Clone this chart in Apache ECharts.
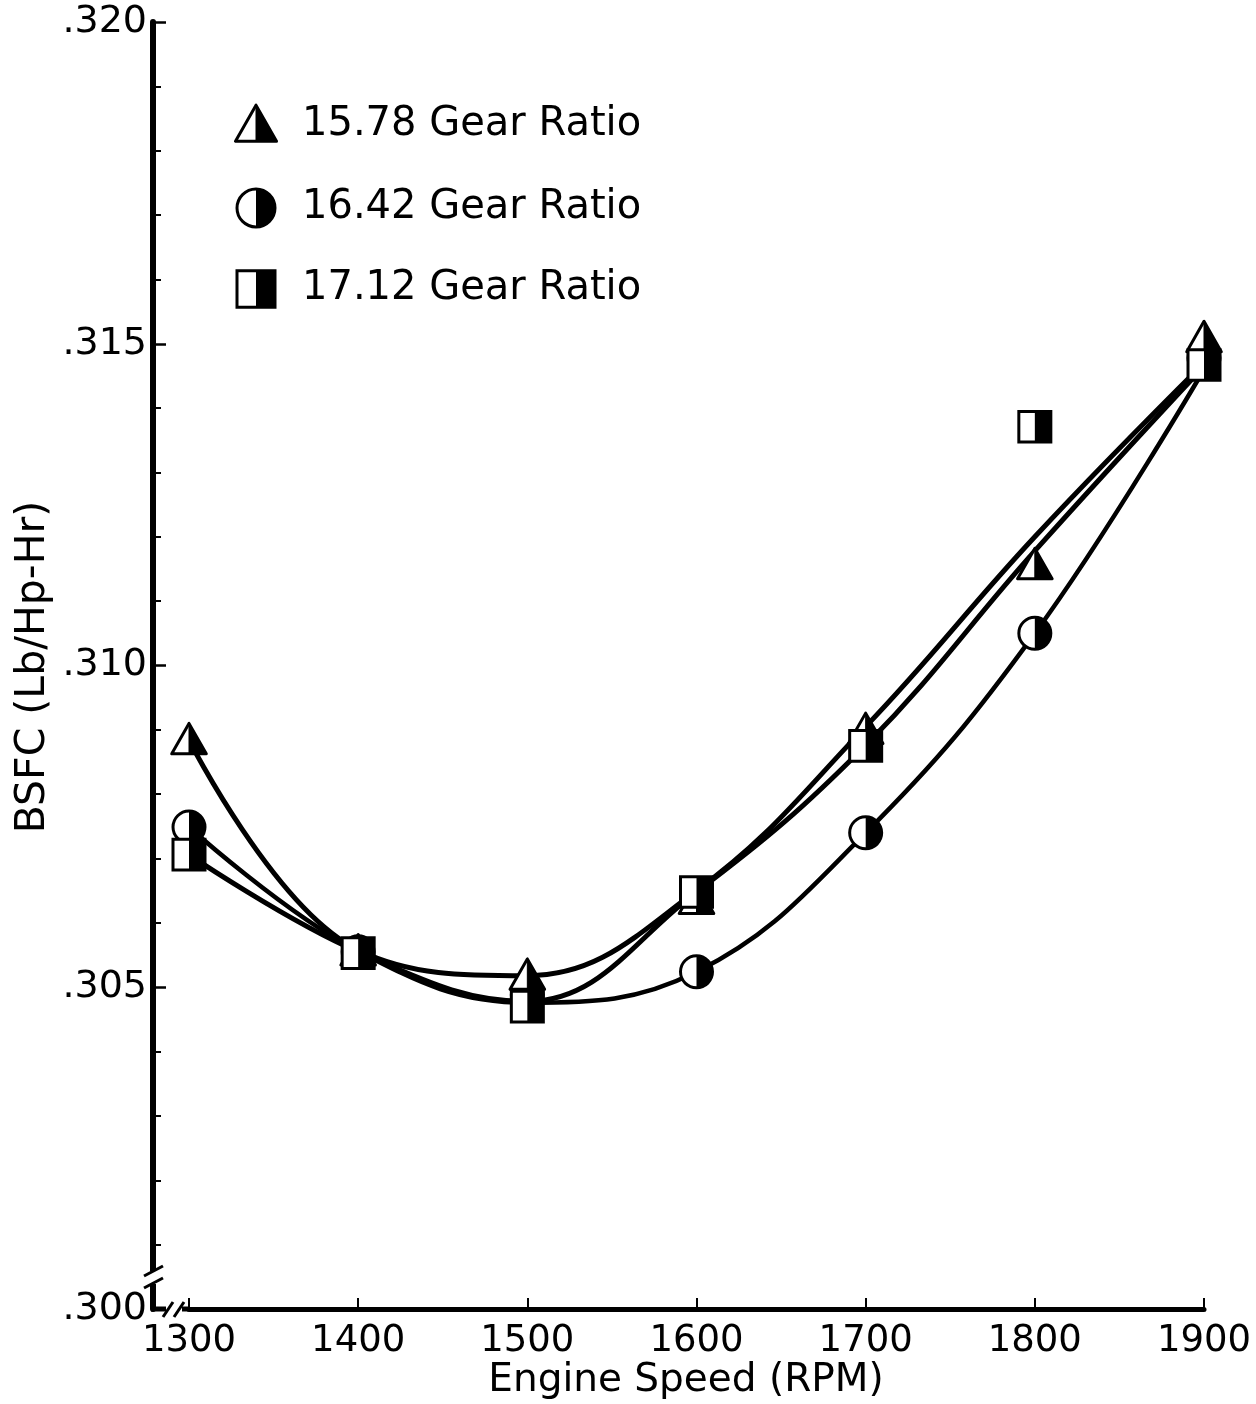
<!DOCTYPE html>
<html>
<head>
<meta charset="utf-8">
<title>BSFC vs Engine Speed</title>
<script src="https://cdn.jsdelivr.net/npm/echarts@6/dist/echarts.min.js"></script>
<style>
  html, body { margin: 0; padding: 0; background: #ffffff; }
  #chart { width: 1256px; height: 1404px; }
</style>
</head>
<body>
<div id="chart"></div>
<script>
// Engine speed (RPM) at which BSFC was measured
const rpm = [1300, 1400, 1500, 1600, 1700, 1800, 1900];

// Measured BSFC (Lb/Hp-Hr) for each final-drive gear ratio
const bsfc1578 = [0.30884, 0.30556, 0.30518, 0.30636, 0.30900, 0.31156, 0.31509];
const bsfc1642 = [0.30749, 0.30555, 0.30488, 0.30524, 0.30740, 0.31050, 0.31478];
const bsfc1712 = [0.30706, 0.30553, 0.30470, 0.30648, 0.30875, 0.31371, 0.31467];

// Faired curves drawn through each set of points
const curve1578 = [0.30884, 0.30558, 0.30518, 0.30650, 0.30905, 0.31200, 0.31470];
const curve1642 = [0.30749, 0.30556, 0.30476, 0.30524, 0.30740, 0.31050, 0.31460];
const curve1712 = [0.30706, 0.30555, 0.30478, 0.30648, 0.30876, 0.31178, 0.31465];

// Legend labels and axis tick values
const seriesNames = ['15.78 Gear Ratio', '16.42 Gear Ratio', '17.12 Gear Ratio'];
const yTicks = [0.300, 0.305, 0.310, 0.315, 0.320];

const FONT = 'DejaVu Sans';
const INK = '#000000';

// Half-open / half-solid symbol: left half white, right half black
function halfSymbol(kind, cx, cy, s) {
  const lw = 3;
  if (kind === 'triangle') {
    const w = s * 1.08, h = s * 0.95;
    const top = cy - h * 0.55, bot = cy + h * 0.45;
    return [
      { type: 'polygon', shape: { points: [[cx, top], [cx - w / 2, bot], [cx + w / 2, bot]] },
        style: { fill: '#fff', stroke: INK, lineWidth: lw, lineJoin: 'round' } },
      { type: 'polygon', shape: { points: [[cx, top], [cx, bot], [cx + w / 2, bot]] },
        style: { fill: INK, stroke: INK, lineWidth: 1 } }
    ];
  }
  if (kind === 'circle') {
    const r = s / 2;
    return [
      { type: 'circle', shape: { cx: cx, cy: cy, r: r },
        style: { fill: '#fff', stroke: INK, lineWidth: lw } },
      { type: 'sector', shape: { cx: cx, cy: cy, r0: 0, r: r, startAngle: -Math.PI / 2, endAngle: Math.PI / 2, clockwise: true },
        style: { fill: INK } }
    ];
  }
  const w = s, h = s * 0.96;
  return [
    { type: 'rect', shape: { x: cx - w / 2, y: cy - h / 2, width: w, height: h },
      style: { fill: '#fff', stroke: INK, lineWidth: lw } },
    { type: 'rect', shape: { x: cx, y: cy - h / 2, width: w / 2, height: h },
      style: { fill: INK } }
  ];
}

function markerSeries(name, kind, values, z) {
  return {
    name: name,
    type: 'custom',
    z: z,
    data: rpm.map((x, i) => [x, values[i]]),
    renderItem: function (params, api) {
      const p = api.coord([api.value(0), api.value(1)]);
      return { type: 'group', children: halfSymbol(kind, p[0], p[1], 32) };
    }
  };
}

function curveSeries(values, width) {
  return {
    type: 'line',
    z: 3,
    smooth: 0.4,
    showSymbol: false,
    symbol: 'none',
    silent: true,
    data: rpm.map((x, i) => [x, values[i]]),
    lineStyle: { color: INK, width: width, cap: 'round', join: 'round' }
  };
}

// Legend drawn as graphics so the half-filled symbols can be shown
const legendKinds = ['triangle', 'circle', 'rect'];
const legendRows = [125, 208, 289];
const legendGraphics = [];
legendKinds.forEach((k, i) => {
  legendGraphics.push({
    type: 'group',
    children: halfSymbol(k, 256, legendRows[i], 38)
  });
  legendGraphics.push({
    type: 'text',
    x: 302, y: legendRows[i],
    style: { text: seriesNames[i], font: '40px "' + FONT + '"', fill: INK, textVerticalAlign: 'middle', verticalAlign: 'middle' }
  });
});

// Axis break marks at the origin
const breakGraphics = [
  { type: 'rect', shape: { x: 146, y: 1271, width: 16, height: 13 }, style: { fill: '#fff' }, z: 20 },
  { type: 'line', shape: { x1: 144, y1: 1276, x2: 163, y2: 1266 }, style: { stroke: INK, lineWidth: 3 }, z: 21 },
  { type: 'line', shape: { x1: 144, y1: 1288, x2: 163, y2: 1278 }, style: { stroke: INK, lineWidth: 3 }, z: 21 },
  { type: 'line', shape: { x1: 151, y1: 1309, x2: 166, y2: 1309 }, style: { stroke: INK, lineWidth: 5 }, z: 21 },
  { type: 'line', shape: { x1: 163, y1: 1317, x2: 173, y2: 1302 }, style: { stroke: INK, lineWidth: 3 }, z: 21 },
  { type: 'line', shape: { x1: 174, y1: 1317, x2: 184, y2: 1302 }, style: { stroke: INK, lineWidth: 3 }, z: 21 },
  { type: 'line', shape: { x1: 182, y1: 1309, x2: 190, y2: 1309 }, style: { stroke: INK, lineWidth: 5 }, z: 21 }
];

// Axis titles
const titleGraphics = [
  { type: 'text', x: 686, y: 1381,
    style: { text: 'Engine Speed (RPM)', font: '39px "' + FONT + '"', fill: INK, textAlign: 'center', align: 'center', textVerticalAlign: 'middle', verticalAlign: 'middle' } },
  { type: 'text', x: 33, y: 667, rotation: Math.PI / 2,
    style: { text: 'BSFC (Lb/Hp-Hr)', font: '41px "' + FONT + '"', fill: INK, textAlign: 'center', align: 'center', textVerticalAlign: 'middle', verticalAlign: 'middle' } }
];

const chart = echarts.init(document.getElementById('chart'), null, { renderer: 'canvas' });

chart.setOption({
  backgroundColor: '#ffffff',
  animation: false,
  grid: { left: 189, right: 52, top: 22, bottom: 95, containLabel: false },
  xAxis: {
    type: 'value',
    min: rpm[0],
    max: rpm[rpm.length - 1],
    interval: 100,
    axisLine: { show: true, onZero: false, lineStyle: { color: INK, width: 5 } },
    axisTick: { show: true, inside: true, length: 11, lineStyle: { color: INK, width: 2 } },
    axisLabel: { color: INK, fontFamily: FONT, fontSize: 37, margin: 14, formatter: v => String(v) },
    splitLine: { show: false }
  },
  yAxis: {
    type: 'value',
    min: yTicks[0],
    max: yTicks[yTicks.length - 1],
    interval: 0.005,
    offset: 36,
    axisLine: { show: true, onZero: false, lineStyle: { color: INK, width: 6 } },
    axisTick: { show: true, inside: true, length: 13, lineStyle: { color: INK, width: 2.5 } },
    minorTick: { show: true, splitNumber: 5, length: 8, lineStyle: { color: INK, width: 2 } },
    axisLabel: {
      color: INK, fontFamily: FONT, fontSize: 38, margin: 6,
      formatter: v => v.toFixed(3).replace(/^0/, '')
    },
    splitLine: { show: false },
    minorSplitLine: { show: false }
  },
  graphic: legendGraphics.concat(breakGraphics, titleGraphics),
  series: [
    curveSeries(curve1578, 5),
    curveSeries(curve1642, 4.5),
    curveSeries(curve1712, 5),
    markerSeries(seriesNames[1], 'circle', bsfc1642, 10),
    markerSeries(seriesNames[0], 'triangle', bsfc1578, 11),
    markerSeries(seriesNames[2], 'rect', bsfc1712, 12)
  ]
});
</script>
</body>
</html>
